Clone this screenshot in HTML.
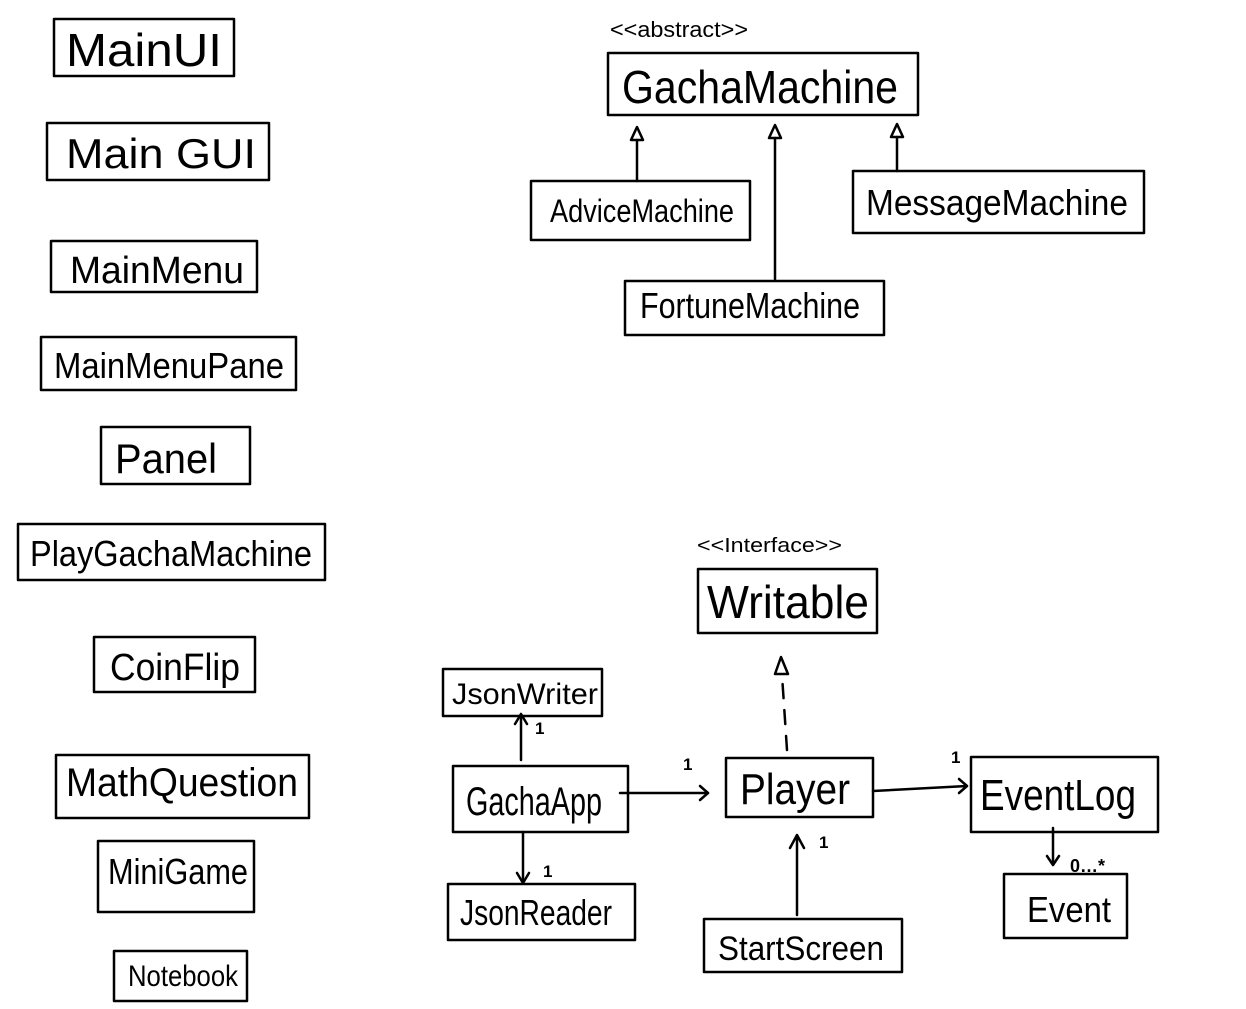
<!DOCTYPE html>
<html><head><meta charset="utf-8"><style>
html,body{margin:0;padding:0;background:#fff;}
svg{display:block}
text{font-family:"Liberation Sans Narrow","Liberation Sans",sans-serif;fill:#000;}
</style></head><body>
<svg width="1246" height="1009" viewBox="0 0 1246 1009" xmlns="http://www.w3.org/2000/svg">
<g fill="none" stroke="#000" stroke-width="2.5" stroke-linejoin="round" stroke-linecap="round">
<rect x="54" y="19" width="180" height="57"/>
<rect x="47" y="123" width="222" height="57"/>
<rect x="51" y="241" width="206" height="51"/>
<rect x="41" y="337" width="255" height="53"/>
<rect x="101" y="427" width="149" height="57"/>
<rect x="18" y="524" width="307" height="56"/>
<rect x="94" y="637" width="161" height="55"/>
<rect x="56" y="755" width="253" height="63"/>
<rect x="98" y="841" width="156" height="71"/>
<rect x="114" y="951" width="133" height="50"/>
<rect x="608" y="53" width="310" height="62"/>
<rect x="531" y="181" width="219" height="59"/>
<rect x="853" y="171" width="291" height="62"/>
<rect x="625" y="281" width="259" height="54"/>
<line x1="637" y1="181" x2="637" y2="140"/>
<polygon points="637,127 631,140 643,140"/>
<line x1="775" y1="279" x2="775" y2="138"/>
<polygon points="775,125 769,138 781,138"/>
<line x1="897" y1="171" x2="897" y2="137"/>
<polygon points="897,124 891,137 903,137"/>
<rect x="698" y="569" width="179" height="64"/>
<rect x="443" y="669" width="159" height="47"/>
<rect x="453" y="766" width="175" height="66"/>
<rect x="448" y="884" width="187" height="56"/>
<rect x="726" y="758" width="147" height="59"/>
<rect x="971" y="757" width="187" height="75"/>
<rect x="1004" y="874" width="123" height="64"/>
<rect x="704" y="919" width="198" height="53"/>
<line x1="787" y1="750" x2="782" y2="675" stroke-dasharray="14,12"/>
<polygon points="781,657 775,674 788,674"/>
<line x1="521" y1="760" x2="521" y2="715"/>
<polyline points="515,724 521,714 527,724"/>
<line x1="523" y1="832" x2="523" y2="882"/>
<polyline points="517,873 523,883 529,873"/>
<line x1="620" y1="793" x2="708" y2="793"/>
<polyline points="700,786 708,793 700,800"/>
<line x1="873" y1="791" x2="967" y2="786"/>
<polyline points="959,779 967,786 959,793"/>
<line x1="1053" y1="828" x2="1053" y2="864"/>
<polyline points="1047,856 1053,865 1059,856"/>
<line x1="797" y1="915" x2="797" y2="837"/>
<polyline points="790,848 797,835 804,848"/>
</g>
<g>
<text x="66" y="66" font-size="46" textLength="156" lengthAdjust="spacingAndGlyphs">MainUI</text>
<text x="66" y="168" font-size="42" textLength="190" lengthAdjust="spacingAndGlyphs">Main GUI</text>
<text x="70" y="283" font-size="38" textLength="174" lengthAdjust="spacingAndGlyphs">MainMenu</text>
<text x="54" y="378" font-size="36" textLength="230" lengthAdjust="spacingAndGlyphs">MainMenuPane</text>
<text x="115" y="473" font-size="42" textLength="102" lengthAdjust="spacingAndGlyphs">Panel</text>
<text x="30" y="566" font-size="36" textLength="282" lengthAdjust="spacingAndGlyphs">PlayGachaMachine</text>
<text x="110" y="680" font-size="38" textLength="130" lengthAdjust="spacingAndGlyphs">CoinFlip</text>
<text x="66" y="796" font-size="40" textLength="232" lengthAdjust="spacingAndGlyphs">MathQuestion</text>
<text x="108" y="884" font-size="36" textLength="140" lengthAdjust="spacingAndGlyphs">MiniGame</text>
<text x="128" y="986" font-size="30" textLength="110" lengthAdjust="spacingAndGlyphs">Notebook</text>
<text x="610" y="37" font-size="22" textLength="138" lengthAdjust="spacingAndGlyphs">&lt;&lt;abstract&gt;&gt;</text>
<text x="622" y="103" font-size="46" textLength="276" lengthAdjust="spacingAndGlyphs">GachaMachine</text>
<text x="550" y="222" font-size="32" textLength="184" lengthAdjust="spacingAndGlyphs">AdviceMachine</text>
<text x="866" y="215" font-size="36" textLength="262" lengthAdjust="spacingAndGlyphs">MessageMachine</text>
<text x="640" y="318" font-size="36" textLength="220" lengthAdjust="spacingAndGlyphs">FortuneMachine</text>
<text x="697" y="552" font-size="20" textLength="145" lengthAdjust="spacingAndGlyphs">&lt;&lt;Interface&gt;&gt;</text>
<text x="707" y="618" font-size="46" textLength="162" lengthAdjust="spacingAndGlyphs">Writable</text>
<text x="452" y="704" font-size="30" textLength="146" lengthAdjust="spacingAndGlyphs">JsonWriter</text>
<text x="466" y="815" font-size="40" textLength="136" lengthAdjust="spacingAndGlyphs">GachaApp</text>
<text x="460" y="925" font-size="36" textLength="152" lengthAdjust="spacingAndGlyphs">JsonReader</text>
<text x="740" y="804" font-size="44" textLength="110" lengthAdjust="spacingAndGlyphs">Player</text>
<text x="980" y="810" font-size="44" textLength="156" lengthAdjust="spacingAndGlyphs">EventLog</text>
<text x="1027" y="922" font-size="36" textLength="84" lengthAdjust="spacingAndGlyphs">Event</text>
<text x="718" y="960" font-size="34" textLength="166" lengthAdjust="spacingAndGlyphs">StartScreen</text>
<text x="535" y="734" font-size="17" font-weight="bold">1</text>
<text x="543" y="877" font-size="17" font-weight="bold">1</text>
<text x="683" y="770" font-size="17" font-weight="bold">1</text>
<text x="951" y="763" font-size="17" font-weight="bold">1</text>
<text x="819" y="848" font-size="17" font-weight="bold">1</text>
<text x="1070" y="872" font-size="18" font-weight="bold">0…*</text>
</g>
</svg>
</body></html>
